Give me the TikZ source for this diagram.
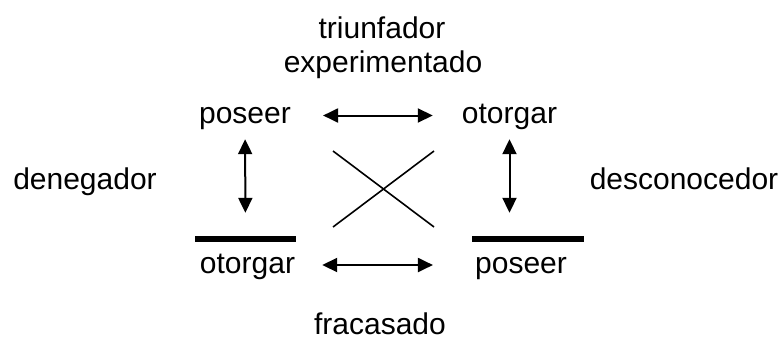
\documentclass[tikz,border=0pt]{standalone}
\usepackage{fontspec}
\setmainfont{Liberation Sans}
\usetikzlibrary{arrows.meta}
\usetikzlibrary{positioning}

\begin{document}
\begin{tikzpicture}[
        x=1pt, y=-1pt,
        word/.style={inner sep=0pt, text height=16pt, text depth=0pt, font=\fontsize{30}{36}\selectfont},
        bar/.style={fill=black, inner sep=0pt, minimum height=6pt},
        both/.style={line width=2pt, {Triangle[length=15pt,width=14pt]}-{Triangle[length=15pt,width=14pt]}},
        cross/.style={draw, line width=1.6pt}
    ]
    \useasboundingbox (0,0) rectangle (782,351);

    % --- words ---
    \node[word] (triunfador) at (382, 30) {triunfador};
    \node[word] (experimentado) at (383, 64) {experimentado};
    \node[word] (poseerA) at (245, 115.5) {poseer};
    \node[word] (otorgarA) at (509.5, 115.5) {otorgar};
    \node[word] (denegador) at (85, 181) {denegador};
    \node[word] (desconocedor) at (684, 181) {desconocedor};
    \node[word] (otorgarB) at (247.5, 265) {otorgar};
    \node[word] (poseerB) at (521, 265) {poseer};
    \node[word] (fracasado) at (380, 326) {fracasado};

    % --- bars ---
    \node[bar, minimum width=101pt] (barL) at (245.5, 239) {};
    \node[bar, minimum width=112pt] (barR) at (528, 239) {};

    % --- cross ---
    \coordinate (cNW) at (333, 151);
    \coordinate (cSE) at (434, 227);
    \coordinate (cSW) at (333, 227);
    \coordinate (cNE) at (434, 151);

    % --- arrows ---
    \draw[both, shorten <=32pt, shorten >=29pt] (poseerA) -- (otorgarA);
    \draw[both, shorten <=27pt, shorten >=42pt] (otorgarB) -- (poseerB);
    \draw[both, shorten <=15.5pt, shorten >=23pt] (poseerA) -- (barL);
    \draw[both, shorten <=15.5pt, shorten >=23pt] (otorgarA) -- (otorgarA |- barR.north);

    \draw[cross] (cNW) -- (cSE);
    \draw[cross] (cSW) -- (cNE);
\end{tikzpicture}
\end{document}
